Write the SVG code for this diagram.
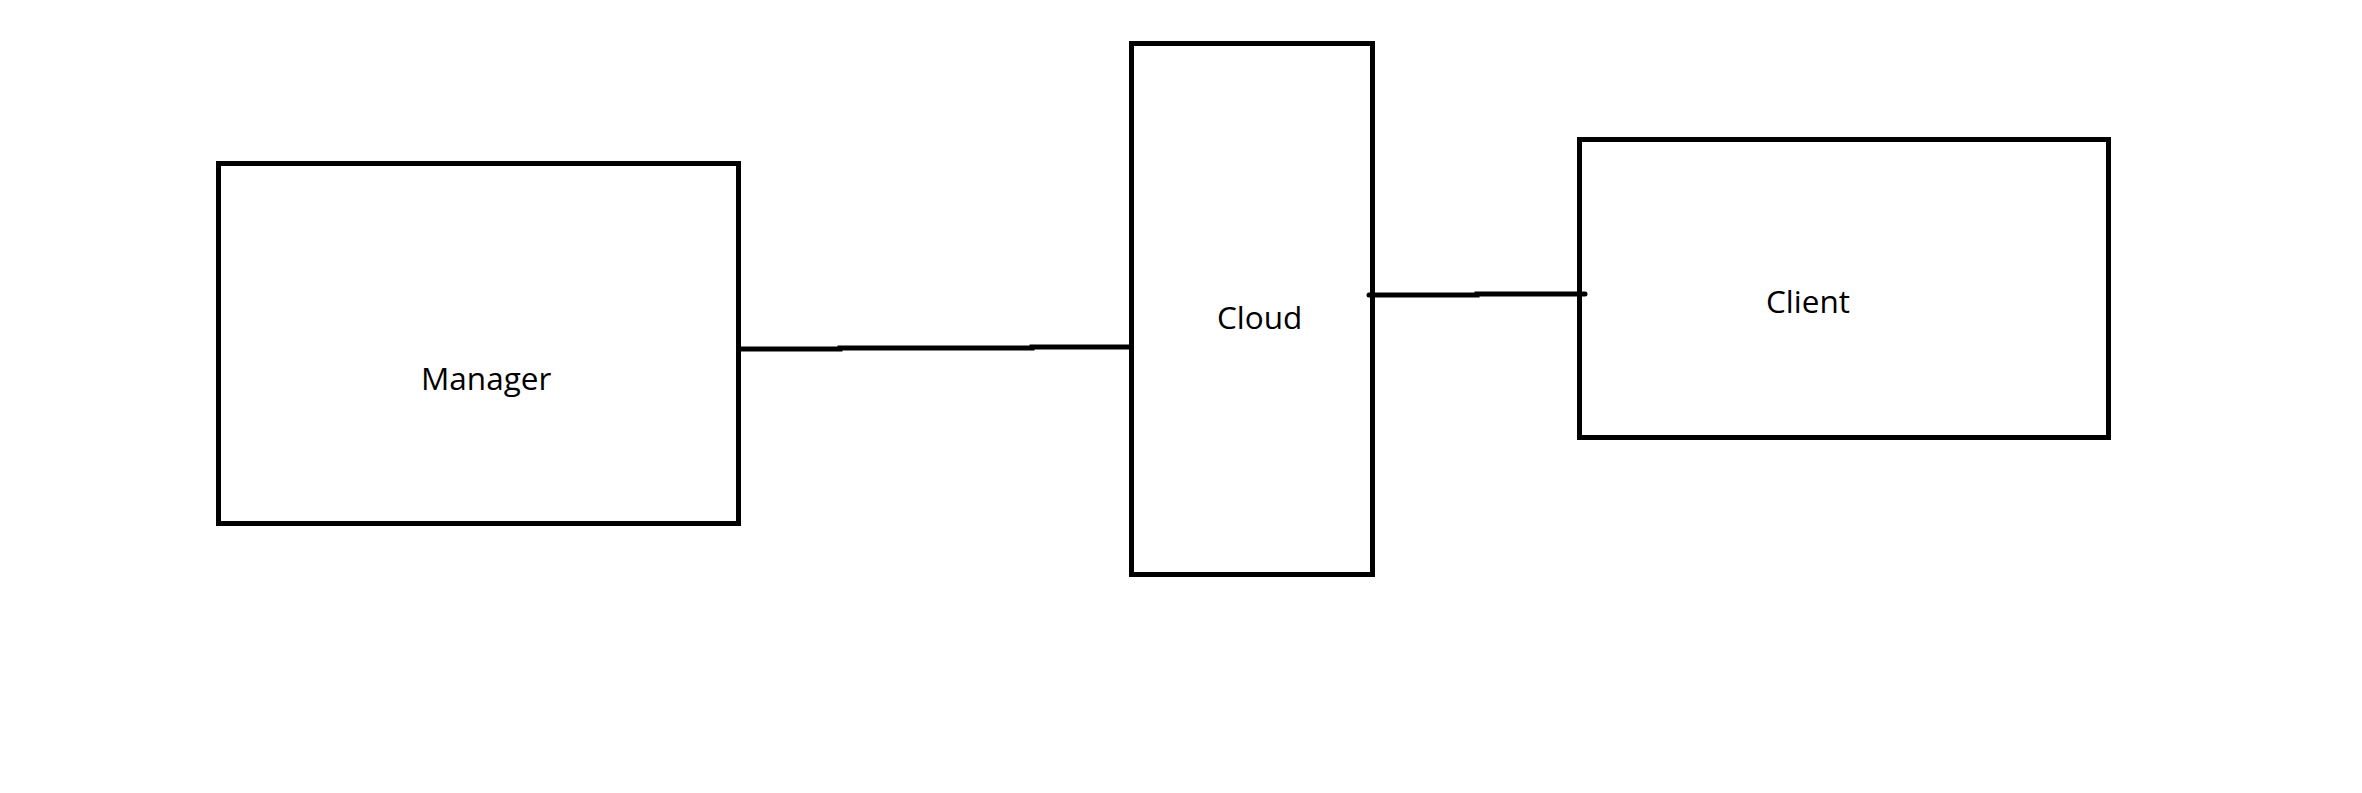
<svg xmlns="http://www.w3.org/2000/svg" width="2362" height="793" viewBox="0 0 2362 793">
<style>
.box{fill:#fff;stroke:#000;stroke-width:5}
.lbl{font-family:"Open Sans","Noto Sans",sans-serif;font-size:31.5px;fill:#000}
.conn{fill:none;stroke:#000;stroke-width:5;stroke-linecap:round}
</style>
<rect width="2362" height="793" fill="#fff"/>
<g id="manager">
<rect class="box" x="218.5" y="163.5" width="520" height="360"/>
<text class="lbl" x="421" y="390">Manager</text>
</g>
<g id="cloud">
<rect class="box" x="1131.5" y="43.5" width="241" height="531"/>
<text class="lbl" x="1217" y="329">Cloud</text>
</g>
<g id="client">
<rect class="box" x="1579.5" y="139.5" width="529" height="298"/>
<text class="lbl" x="1766" y="313">Client</text>
</g>
<g id="connectors">
<path class="conn" d="M741 349 H840 V348 H1032 V347 H1131"/>
<path class="conn" d="M1369 295 H1477 V294 H1585"/>
</g>
</svg>
